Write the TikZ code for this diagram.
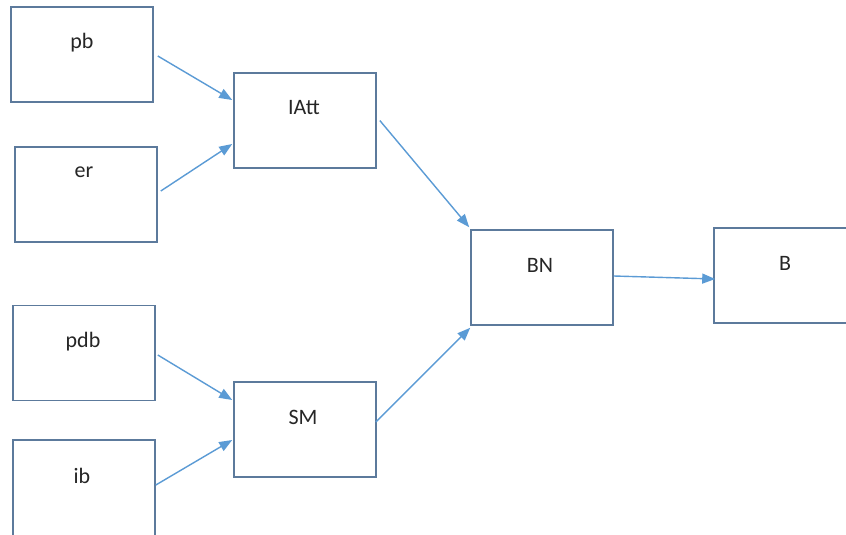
\documentclass[tikz,border=0pt]{standalone}
\usepackage{fontspec}
\setmainfont{Carlito}
\usetikzlibrary{arrows.meta}
\definecolor{boxline}{RGB}{92,122,156}
\definecolor{flow}{RGB}{91,155,213}
\tikzset{
  blk/.style={draw=boxline, line width=1.6pt, fill=white, minimum width=142pt, minimum height=95pt, inner sep=0pt},
  lbl/.style={font=\fontsize{22}{26}\selectfont, text=black!85, inner sep=0pt},
  flowarrow/.style={draw=flow, line width=1.4pt, -{Triangle[length=13pt,width=10pt]}}
}
\begin{document}
\begin{tikzpicture}[x=1pt,y=-1pt]
  \useasboundingbox (0,0) rectangle (846,535);
  \clip (0,0) rectangle (846,535);
  \fill[white] (0,0) rectangle (846,535);

  % input blocks
  \node[blk] (pb)  at (82,54.5) {};
  \node[blk] (er)  at (86,194.5) {};
  \node[blk] (pdb) at (84,353) {};
  \node[blk, minimum height=100pt] (ib) at (84,490) {};

  % intermediate blocks
  \node[blk] (IAtt) at (305,120.5) {};
  \node[blk] (SM)   at (305,429.5) {};
  \node[blk] (BN)   at (542,277.5) {};
  \node[blk] (B)    at (785,275.5) {};

  % block captions
  \node[lbl] (pbt)   at (82,43)  {pb};
  \node[lbl] (ert)   at (84,172) {er};
  \node[lbl] (pdbt)  at (83,342) {pdb};
  \node[lbl] (ibt)   at (82,476) {ib};
  \node[lbl] (IAttt) at (304,108) {IAtt};
  \node[lbl] (SMt)   at (303,417) {SM};
  \node[lbl] (BNt)   at (540,265) {BN};
  \node[lbl] (Bt)    at (785,263) {B};

  % connectors
  \draw[flowarrow] ([xshift=4pt,yshift=-1.5pt]pb.east) -- ([xshift=-1pt,yshift=20.5pt]IAtt.west);
  \draw[flowarrow] ([xshift=3pt,yshift=3.5pt]er.east) -- ([xshift=-1pt,yshift=-23.5pt]IAtt.west);
  \draw[flowarrow] ([xshift=2pt,yshift=-2pt]pdb.east) -- ([xshift=-1pt,yshift=29.5pt]SM.west);
  \draw[flowarrow] ([yshift=5pt]ib.east) -- ([xshift=-1pt,yshift=-10.5pt]SM.west);
  \draw[flowarrow] ([xshift=3pt]IAtt.east) -- ([xshift=-1pt,yshift=2pt]BN.north west);
  \draw[flowarrow] ([xshift=-1pt,yshift=7.5pt]SM.east) -- ([yshift=-2pt]BN.south west);
  \draw[flowarrow] ([yshift=1.5pt]BN.east) -- ([xshift=2pt,yshift=-3.5pt]B.west);
\end{tikzpicture}
\end{document}
